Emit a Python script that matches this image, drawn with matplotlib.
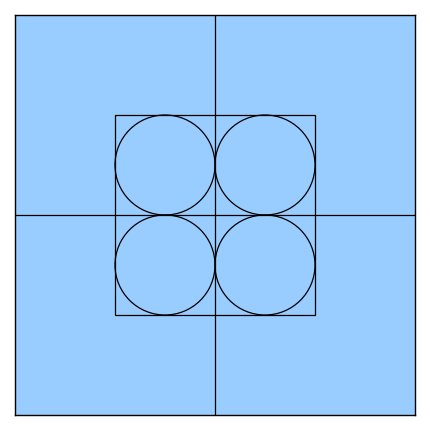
import matplotlib
matplotlib.use("Agg")
import matplotlib.pyplot as plt
from matplotlib.patches import Circle, Rectangle

# Data
outer_half = 2.0
inner_square = (-1.0, -1.0, 2.0, 2.0)  # x, y, width, height
circle_centers_x = [-0.5, 0.5, -0.5, 0.5]
circle_centers_y = [0.5, 0.5, -0.5, -0.5]
circle_radius = 0.5

fig = plt.figure(figsize=(4.3, 4.3), dpi=100)
fig.patch.set_facecolor("white")
ax = fig.add_axes([15 / 430, 15 / 430, 400 / 430, 400 / 430])
ax.set_facecolor("#99ccff")
ax.set_xlim(-outer_half, outer_half)
ax.set_ylim(-outer_half, outer_half)
ax.set_aspect("equal")
ax.set_xticks([])
ax.set_yticks([])
for s in ax.spines.values():
    s.set_color("black")
    s.set_linewidth(1.0)

ax.axhline(0, color="black", lw=0.9)
ax.axvline(0, color="black", lw=0.9)

ax.add_patch(Rectangle(inner_square[:2], inner_square[2], inner_square[3],
                       fill=False, edgecolor="black", lw=0.9))
for cx, cy in zip(circle_centers_x, circle_centers_y):
    ax.add_patch(Circle((cx, cy), circle_radius, fill=False, edgecolor="black", lw=0.9))

fig.savefig("out.png", dpi=100)
